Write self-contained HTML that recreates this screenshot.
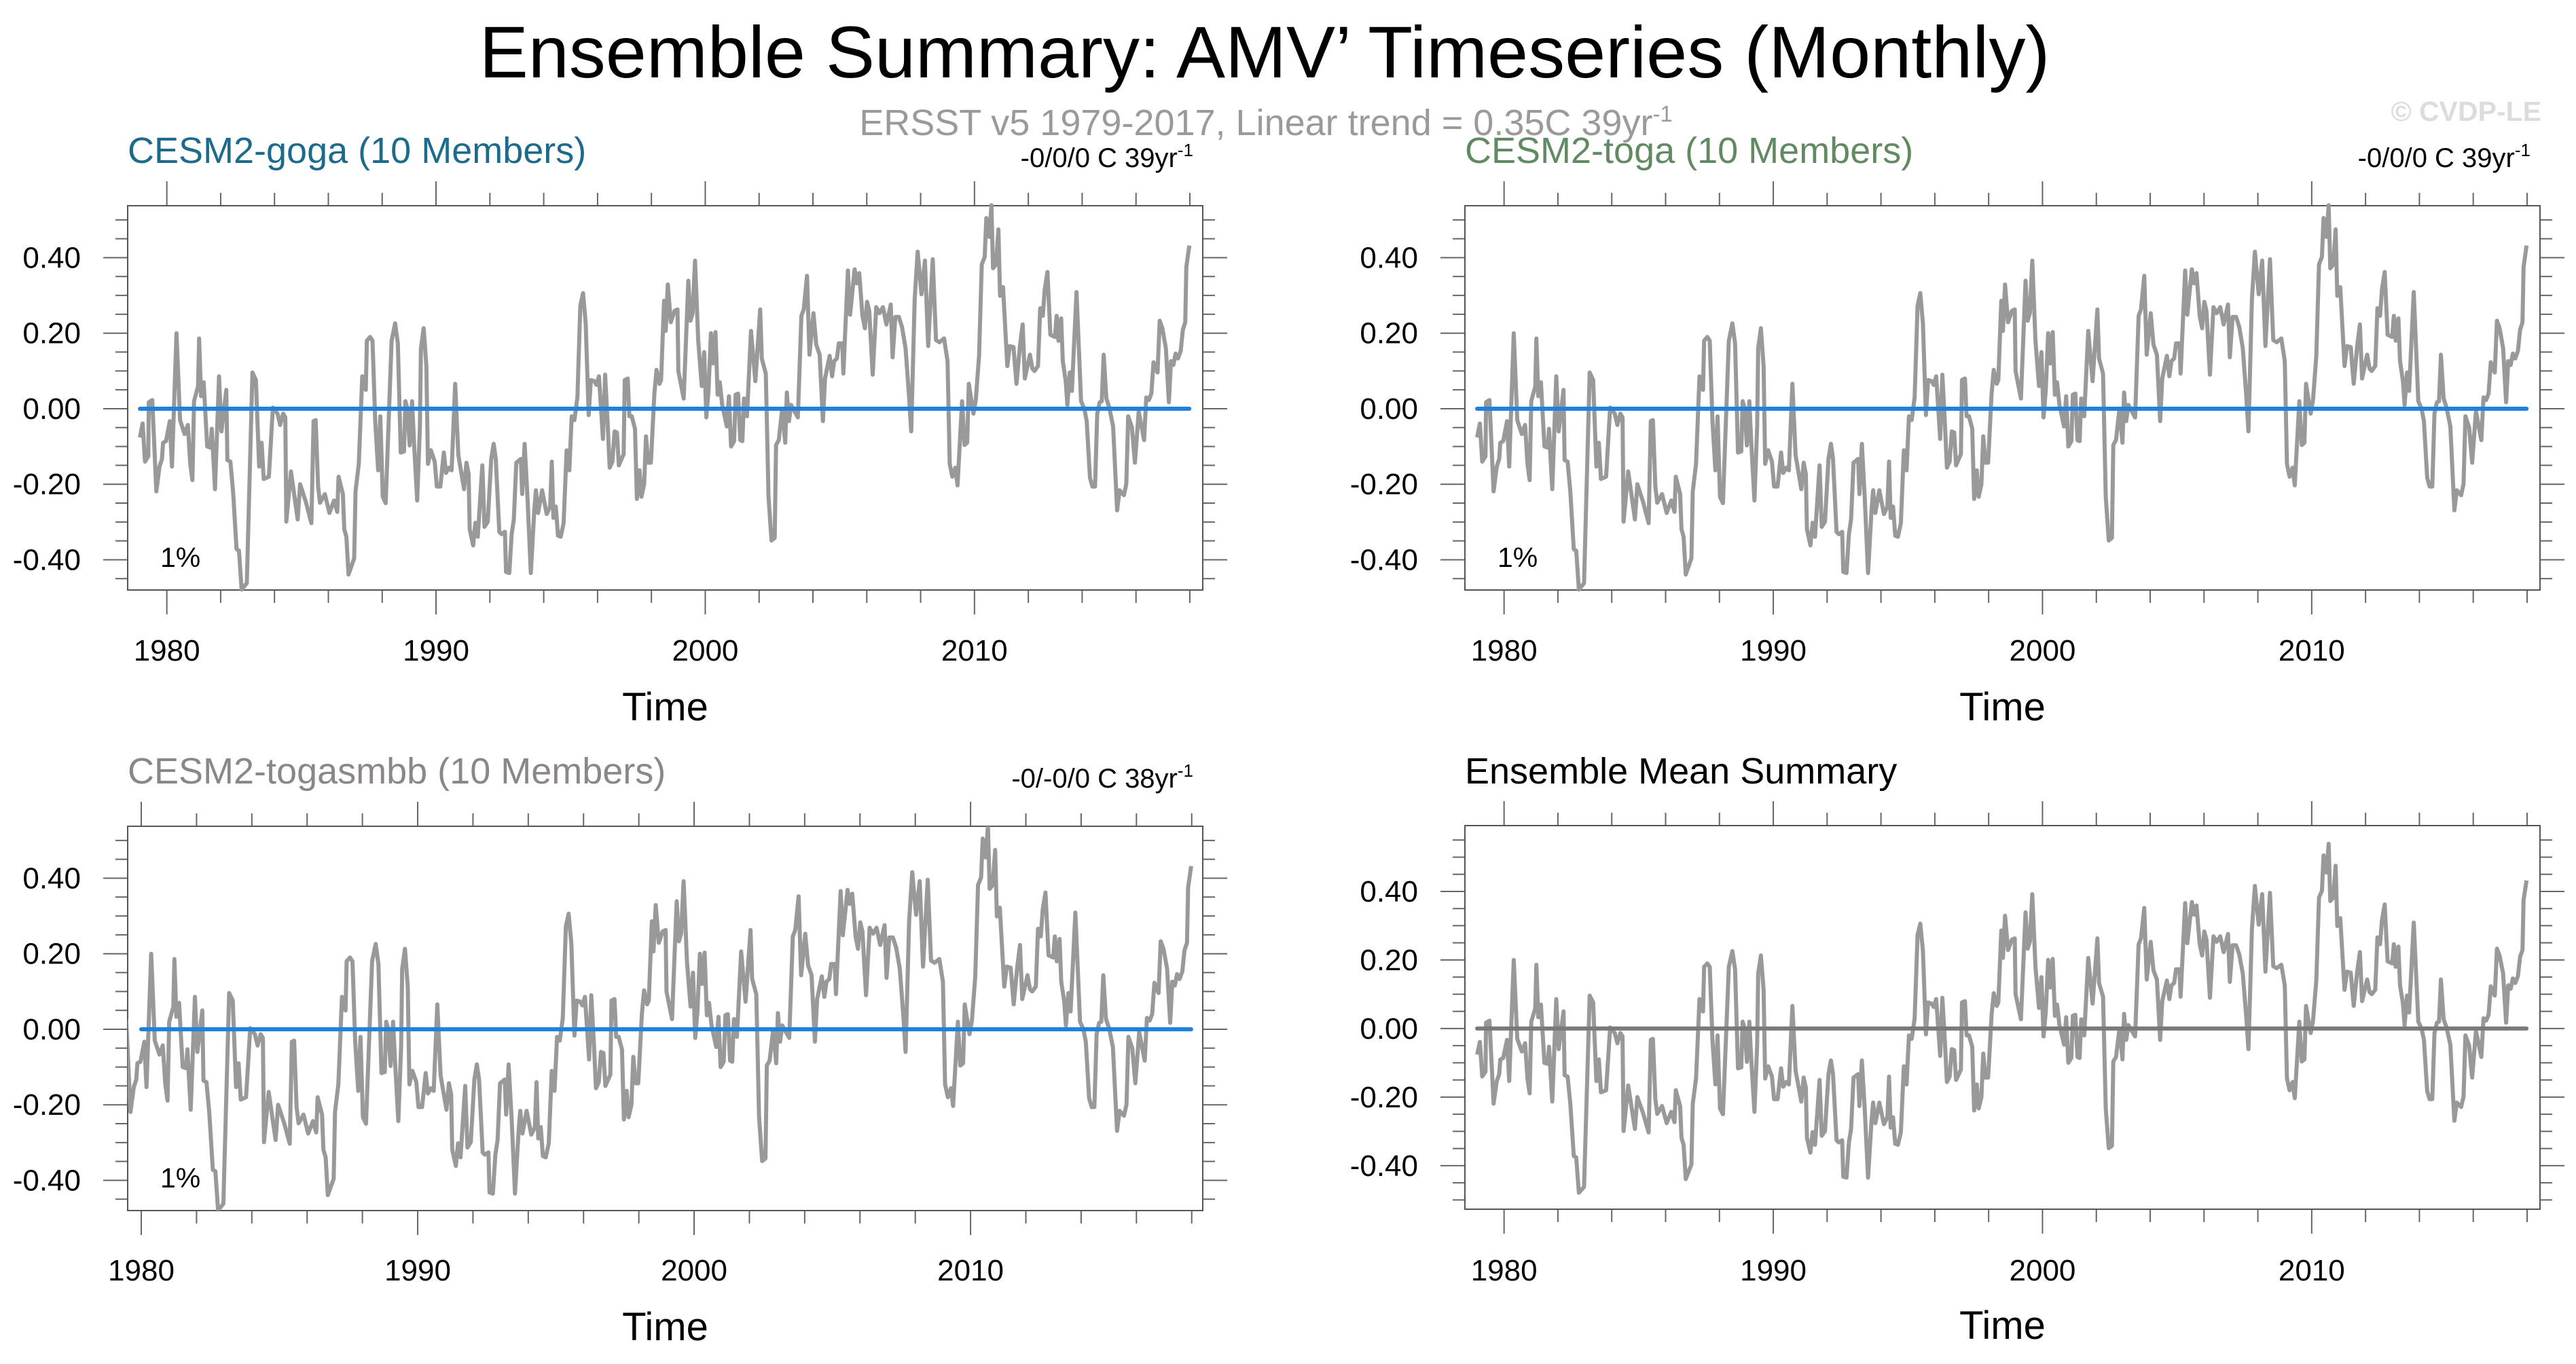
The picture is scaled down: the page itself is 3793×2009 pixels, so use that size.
<!DOCTYPE html>
<html><head><meta charset="utf-8"><style>
html,body{margin:0;padding:0;background:#fff;}
svg{display:block;font-family:"Liberation Sans",Arial,sans-serif;}
</style></head><body>
<svg id="chart" width="3793" height="2009" viewBox="0 0 3793 2009" xmlns="http://www.w3.org/2000/svg">
<rect x="0" y="0" width="3793" height="2009" fill="#fff"/>
<text x="1862" y="114" font-size="108" text-anchor="middle" fill="#000">Ensemble Summary: AMV’ Timeseries (Monthly)</text>
<text x="1864" y="199" font-size="54" text-anchor="middle" fill="#9a9a9a">ERSST v5 1979-2017, Linear trend = 0.35C 39yr<tspan dy="-20" font-size="33">-1</tspan></text>
<text x="3742" y="178" font-size="41" font-weight="bold" text-anchor="end" fill="#dcdcdc">© CVDP-LE</text>
<defs>
<clipPath id="clip-togasmbb"><rect x="188" y="1217" width="1583" height="566"/></clipPath>
</defs>
<g id="panels"></g>
</svg>
<script>
const obsYears = [1979.00,1979.10,1979.19,1979.31,1979.33,1979.46,1979.61,1979.73,1979.82,1979.86,1979.97,1980.11,1980.19,1980.36,1980.49,1980.66,1980.78,1980.87,1980.95,1981.01,1981.16,1981.20,1981.27,1981.37,1981.50,1981.62,1981.67,1981.79,1981.94,1982.03,1982.21,1982.25,1982.36,1982.46,1982.59,1982.68,1982.78,1982.97,1983.18,1983.31,1983.43,1983.52,1983.60,1983.79,1983.94,1984.11,1984.21,1984.32,1984.40,1984.44,1984.61,1984.86,1984.95,1985.16,1985.37,1985.45,1985.53,1985.62,1985.69,1985.87,1986.04,1986.21,1986.33,1986.38,1986.54,1986.59,1986.67,1986.75,1986.96,1987.01,1987.13,1987.26,1987.39,1987.43,1987.55,1987.64,1987.74,1987.85,1987.93,1988.02,1988.13,1988.35,1988.48,1988.58,1988.69,1988.81,
1988.86,1988.94,1989.02,1989.11,1989.19,1989.30,1989.40,1989.44,1989.54,1989.64,1989.70,1989.81,1989.95,1990.03,1990.16,1990.29,1990.37,1990.48,1990.58,1990.71,1990.83,1991.04,1991.13,1991.21,1991.25,1991.38,1991.46,1991.55,1991.72,1991.80,1991.92,1992.05,1992.14,1992.22,1992.35,1992.43,1992.56,1992.60,1992.72,1992.81,1992.89,1992.98,1993.15,1993.20,1993.29,1993.40,1993.52,1993.65,1993.71,1993.79,1993.94,1994.11,1994.24,1994.30,1994.36,1994.45,1994.53,1994.63,1994.74,1994.85,1994.95,1995.04,1995.14,1995.25,1995.36,1995.46,1995.56,1995.67,1995.75,1995.88,1995.96,1996.05,1996.13,1996.20,1996.28,1996.37,1996.45,1996.55,1996.63,1996.72,1996.79,1996.97,1997.01,1997.12,1997.18,1997.27,1997.39,1997.46,1997.56,1997.63,1997.73,1997.80,1997.88,1997.98,1998.11,1998.19,1998.30,1998.36,
1998.47,1998.53,1998.61,1998.72,1998.86,1998.97,1999.00,1999.20,1999.37,1999.45,1999.53,1999.62,1999.74,1999.87,1999.96,2000.04,2000.12,2000.21,2000.29,2000.38,2000.46,2000.54,2000.63,2000.80,2000.88,2000.96,2001.07,2001.13,2001.22,2001.30,2001.38,2001.44,2001.55,2001.70,2001.86,2002.04,2002.10,2002.25,2002.35,2002.46,2002.58,2002.63,2002.73,2002.86,2002.97,2003.03,2003.11,2003.19,2003.44,2003.57,2003.66,2003.78,2003.87,2004.02,2004.12,2004.25,2004.37,2004.45,2004.62,2004.71,2004.79,2004.89,2004.96,2005.09,2005.13,2005.30,2005.38,2005.55,2005.63,2005.72,2005.84,2005.93,2006.01,2006.09,2006.22,2006.35,2006.47,2006.60,2006.73,2006.89,2006.96,2007.06,2007.19,2007.31,2007.44,2007.57,2007.65,2007.78,2007.89,2008.03,2008.16,2008.28,
2008.45,2008.57,2008.70,2008.87,2009.00,2009.08,2009.18,2009.29,2009.37,2009.54,2009.63,2009.73,2009.79,2009.96,2010.05,2010.17,2010.27,2010.38,2010.44,2010.55,2010.63,2010.69,2010.80,2010.89,2010.95,2011.06,2011.22,2011.31,2011.45,2011.56,2011.69,2011.79,2011.87,2012.06,2012.15,2012.23,2012.36,2012.44,2012.54,2012.61,2012.71,2012.82,2012.99,2013.05,2013.12,2013.22,2013.28,2013.39,2013.45,2013.54,2013.62,2013.79,2013.96,2014.08,2014.17,2014.29,2014.38,2014.48,2014.56,2014.65,2014.73,2014.80,2014.90,2015.01,2015.15,2015.24,2015.30,2015.39,2015.55,2015.64,2015.71,2015.85,2015.96,2016.10,2016.30,2016.38,2016.48,2016.57,2016.65,2016.80,2016.88,2016.98,2017.11,2017.22,2017.30,2017.39,2017.47,2017.56,2017.66,2017.74,2017.83,2017.87,2017.98];
const obsValues = [-0.076,-0.039,-0.140,-0.126,0.017,0.023,-0.219,-0.153,-0.133,-0.090,-0.086,-0.033,-0.153,0.200,-0.030,-0.067,-0.043,-0.146,-0.189,0.020,0.059,0.186,0.033,0.070,-0.100,-0.103,-0.053,-0.213,0.086,-0.060,0.050,-0.136,-0.140,-0.219,-0.372,-0.376,-0.479,-0.462,0.096,0.076,-0.153,-0.090,-0.186,-0.180,0.003,-0.013,-0.043,-0.013,-0.023,-0.299,-0.166,-0.293,-0.200,-0.246,-0.303,-0.033,-0.030,-0.206,-0.249,-0.226,-0.276,-0.243,-0.273,-0.180,-0.226,-0.319,-0.339,-0.439,-0.396,-0.219,-0.146,0.086,0.050,0.180,0.190,0.180,-0.033,-0.163,-0.020,-0.233,-0.250,0.180,0.226,0.173,-0.116,-0.113,
0.020,0.000,-0.097,0.020,-0.100,-0.243,-0.047,0.160,0.213,0.113,-0.146,-0.110,-0.140,-0.206,-0.206,-0.116,-0.170,-0.156,-0.163,0.066,-0.123,-0.213,-0.143,-0.173,-0.319,-0.362,-0.302,-0.339,-0.150,-0.313,-0.299,-0.133,-0.093,-0.133,-0.326,-0.332,-0.326,-0.432,-0.435,-0.332,-0.293,-0.143,-0.133,-0.226,-0.093,-0.239,-0.435,-0.269,-0.216,-0.276,-0.216,-0.279,-0.259,-0.140,-0.289,-0.259,-0.336,-0.339,-0.303,-0.110,-0.163,-0.020,-0.030,0.030,0.273,0.306,0.226,-0.017,0.076,0.073,0.063,0.086,0.000,-0.080,0.090,-0.033,-0.156,-0.140,-0.060,-0.063,-0.150,-0.120,0.076,0.080,-0.020,-0.020,-0.053,-0.239,-0.163,-0.233,-0.200,-0.073,-0.143,-0.143,0.040,0.103,0.066,0.076,
0.286,0.206,0.329,0.229,0.259,0.263,0.100,0.027,0.339,0.233,0.253,0.392,0.180,0.060,0.150,-0.023,0.047,0.200,0.120,0.203,0.037,0.070,0.010,-0.047,0.033,-0.100,-0.086,0.037,0.040,-0.083,-0.086,0.027,-0.020,0.206,0.073,0.263,0.133,0.093,-0.233,-0.349,-0.342,-0.096,-0.083,0.000,-0.090,0.043,-0.033,0.010,-0.023,0.246,0.263,0.352,0.143,0.253,0.170,0.143,-0.033,0.080,0.140,0.086,0.126,0.133,0.173,0.173,0.093,0.366,0.249,0.369,0.332,0.359,0.246,0.213,0.283,0.259,0.090,0.269,0.253,0.269,0.223,0.276,0.136,0.243,0.243,0.216,0.160,0.033,-0.060,0.289,0.416,0.303,0.392,0.166,
0.396,0.182,0.176,0.186,0.126,-0.146,-0.180,-0.156,-0.203,0.020,-0.096,-0.090,0.066,-0.013,0.023,0.140,0.382,0.402,0.505,0.455,0.539,0.372,0.382,0.475,0.299,0.322,0.113,0.166,0.163,0.066,0.166,0.223,0.080,0.143,0.106,0.100,0.113,0.266,0.246,0.316,0.362,0.196,0.190,0.246,0.180,0.239,0.126,0.073,0.010,0.096,0.047,0.309,0.020,0.000,-0.033,-0.183,-0.206,-0.206,-0.013,0.017,0.020,0.143,0.027,0.003,-0.047,-0.183,-0.269,-0.216,-0.229,-0.199,-0.020,-0.050,-0.143,-0.007,-0.083,0.030,0.023,0.040,0.123,0.096,0.233,0.213,0.160,0.017,0.126,0.116,0.146,0.133,0.153,0.209,0.229,0.375,0.432];
const yTickValues = [-0.4,-0.2,0.0,0.2,0.4];
const yTickLabels = ["-0.40","-0.20","0.00","0.20","0.40"];
const xTickYears = [1980,1990,2000,2010];
const xTickLabels = ["1980","1990","2000","2010"];
const refLineValue = 0.0;

const panels = [
 {id:"goga", bx:188, by:303, bw:1583, bh:566, xmin:1978.546, xmax:2018.48, ymin:-0.480, ymax:0.5375, mnMin:-0.45, mnMax:0.50,
  title:"CESM2-goga (10 Members)", tcol:"#1c6a8c", trend:"-0/0/0 C 39yr", refCol:"#1f80e0", refStart:1979.0, pct:true, labY:973, timeY:1061, titleY:240},
 {id:"toga", bx:2157, by:303, bw:1583, bh:566, xmin:1978.546, xmax:2018.48, ymin:-0.480, ymax:0.5375, mnMin:-0.45, mnMax:0.50,
  title:"CESM2-toga (10 Members)", tcol:"#628a62", trend:"-0/0/0 C 39yr", refCol:"#1f80e0", refStart:1979.0, pct:true, labY:973, timeY:1061, titleY:240},
 {id:"togasmbb", bx:188, by:1217, bw:1583, bh:566, xmin:1979.509, xmax:2018.40, ymin:-0.480, ymax:0.5375, mnMin:-0.45, mnMax:0.50, clip:"clip-togasmbb",
  title:"CESM2-togasmbb (10 Members)", tcol:"#8c8787", trend:"-0/-0/0 C 38yr", refCol:"#1f80e0", refStart:1980.0, pct:true, labY:1886, timeY:1974, titleY:1154},
 {id:"ensmean", bx:2157, by:1216, bw:1583, bh:565, xmin:1978.546, xmax:2018.48, ymin:-0.527, ymax:0.592, mnMin:-0.50, mnMax:0.55,
  title:"Ensemble Mean Summary", tcol:"#000", trend:"", refCol:"#7a7a7a", refStart:1979.0, pct:false, labY:1886, timeY:1972, titleY:1154}
];
const NS="http://www.w3.org/2000/svg";
const root=document.getElementById('panels');
function mk(tag,attrs,parent){const e=document.createElementNS(NS,tag);for(const k in attrs)e.setAttribute(k,attrs[k]);(parent||root).appendChild(e);return e;}

panels.forEach(p=>{
 const g=mk('g',{});
 
 
 const xs=t=>p.bx+(t-p.xmin)*p.bw/(p.xmax-p.xmin);
 const ys=v=>p.by+(p.ymax-v)*p.bh/(p.ymax-p.ymin);
 const R=p.bx+p.bw, B=p.by+p.bh;
 const ti=mk('text',{x:p.bx,y:p.titleY,'font-size':54,fill:p.tcol},g);ti.textContent=p.title;
 
 
 if(p.trend){
  const tr=mk('text',{x:R-14,y:p.titleY+6,'font-size':40,'text-anchor':'end',fill:'#000'},g);
  tr.textContent=p.trend;
  const sp=mk('tspan',{dy:-16,'font-size':26},tr);sp.textContent='-1';
  
  
 }
 for(let yr=1980;yr<=2018;yr+=2){
  const x=xs(yr); if(x<p.bx||x>R)continue;
  const major=(yr%10===0); const L=major?36:19;
  const t1=mk('line',{x1:x,y1:p.by,x2:x,y2:p.by-L,stroke:'#666','stroke-width':2},g);
  
  
  const t2=mk('line',{x1:x,y1:B,x2:x,y2:B+L,stroke:'#666','stroke-width':2},g);
  
  
 }
 xTickYears.forEach((yr,i)=>{
  const lb=mk('text',{x:xs(yr),y:p.labY,'font-size':44,'text-anchor':'middle',fill:'#000'},g);
  lb.textContent=xTickLabels[i];
  
  
 });
 const tm=mk('text',{x:p.bx+p.bw/2,y:p.timeY,'font-size':58,'text-anchor':'middle',fill:'#000'},g);
 tm.textContent='Time';
 
 
 for(let k=Math.round(p.mnMin*20);k<=Math.round(p.mnMax*20);k++){
  const v=k/20; const y=ys(v); const major=(k%4===0); const L=major?36:18;
  const a=mk('line',{x1:p.bx,y1:y,x2:p.bx-L,y2:y,stroke:'#666','stroke-width':2},g);
  
  
  const b=mk('line',{x1:R,y1:y,x2:R+L,y2:y,stroke:'#666','stroke-width':2},g);
  
  
 }
 yTickValues.forEach((v,i)=>{
  const lb=mk('text',{x:p.bx-69,y:ys(v)+15,'font-size':44,'text-anchor':'end',fill:'#000'},g);
  lb.textContent=yTickLabels[i];
  
  
 });
 const fr=mk('rect',{x:p.bx,y:p.by,width:p.bw,height:p.bh,fill:'none',stroke:'#555','stroke-width':2},g);
 
 
 let d='';
 obsYears.forEach((t,i)=>{d+=(i?'L':'M')+xs(t).toFixed(1)+' '+ys(obsValues[i]).toFixed(1);});
 const ln=mk('path',{d:d,fill:'none',stroke:'#999','stroke-width':6,'stroke-linejoin':'round'},g);
 if(p.clip) ln.setAttribute('clip-path','url(#'+p.clip+')');
 
 
 const rl=mk('line',{x1:xs(p.refStart),y1:ys(refLineValue),x2:xs(obsYears[obsYears.length-1]),y2:ys(refLineValue),stroke:p.refCol,'stroke-width':6,'stroke-linecap':'round'},g);
 
 
 if(p.pct){
  const pc=mk('text',{x:p.bx+48,y:p.by+532,'font-size':41,fill:'#000'},g);
  pc.textContent='1%';
  
  
 }
});
</script>
</body></html>
